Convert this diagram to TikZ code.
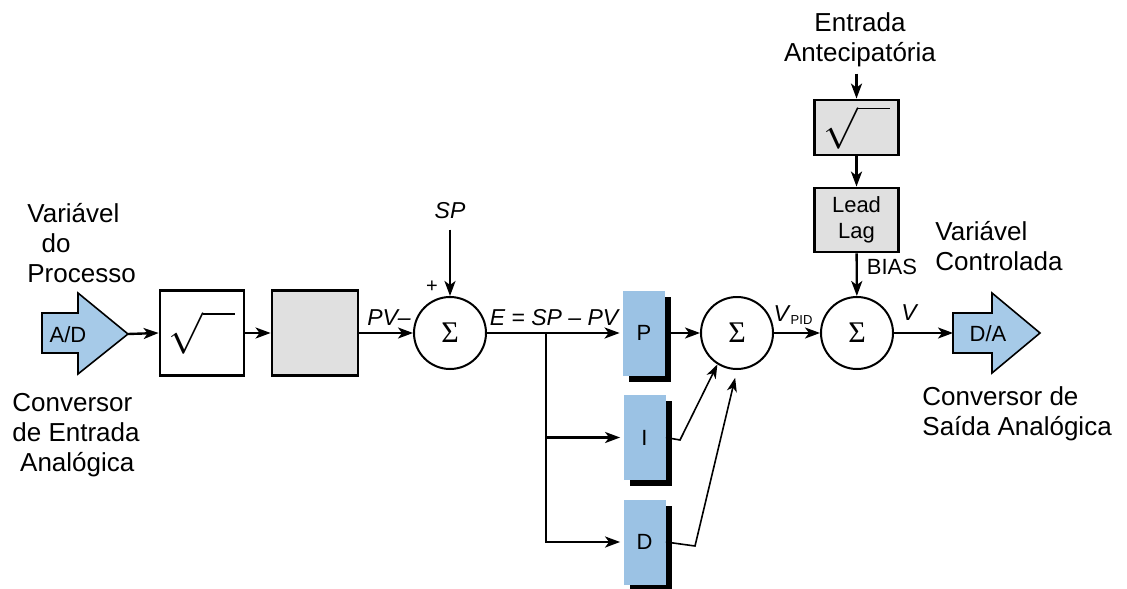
\documentclass[tikz,border=0pt]{standalone}
\usepackage{fontspec}
\setmainfont{Liberation Sans}
\newfontfamily\sigmafont{Liberation Serif}
\usetikzlibrary{arrows.meta, positioning, shadows}
\definecolor{convblue}{RGB}{166,202,232}
\definecolor{pidblue}{RGB}{155,194,228}
\definecolor{boxgray}{RGB}{224,224,224}
\newcommand{\rootsym}{{\fontsize{22}{22}\selectfont$\sqrt{\rule{0pt}{11pt}\hspace{16pt}}$}}
\newcommand{\sumsym}{{\sigmafont\fontsize{15}{15}\selectfont Σ}}

\begin{document}
\begin{tikzpicture}[x=0.5pt, y=-0.5pt,
    block/.style={rectangle, draw=black, line width=1.4pt, minimum width=42pt, minimum height=42.5pt, inner sep=0pt},
    sumnode/.style={circle, draw=black, line width=1pt, minimum size=36pt, inner sep=0pt},
    pidbox/.style={rectangle, fill=pidblue, minimum width=21pt, minimum height=42.5pt, inner sep=0pt, font=\fontsize{11}{13}\selectfont, drop shadow={shadow xshift=3pt, shadow yshift=-3pt, fill=black, opacity=1}},
    conv/.style={draw=black, line width=0.8pt, fill=convblue},
    bigtxt/.style={font=\fontsize{13}{15}\selectfont, inner sep=0pt},
    smalltxt/.style={font=\fontsize{11}{13}\selectfont, inner sep=0pt},
    sigtxt/.style={font=\fontsize{11.5}{13}\selectfont\itshape, inner sep=0pt},
    arrow/.style={-{Stealth[length=7.5pt, width=5.5pt, inset=2pt]}, line width=1.2pt},
    thinarrow/.style={-{Stealth[length=7pt, width=5pt, inset=2pt]}, line width=0.8pt}
]
\useasboundingbox (0,0) rectangle (1127,588);

% A/D converter
\draw[conv] (42,313) -- (78,313) -- (78,293) -- (128,334) -- (78,374) -- (78,353) -- (42,353) -- cycle;
\node[smalltxt] (ad) at (68,335) {A/D};
\coordinate (adtip) at (128,334);
\node[bigtxt, anchor=west, align=left] (pvtxt) at (27,243) {Variável\\\hspace{0.55em}do\\Processo};
\node[bigtxt, anchor=west, align=left] (adtxt) at (12,435) {Conversor\\de Entrada\\\hspace{0.3em}Analógica};

% Blocks
\node[block, fill=white] (sqrt1) at (202,333) {\rootsym};
\node[block, fill=boxgray, minimum width=43pt] (gray) at (315,333) {};

% Sums
\node[sumnode] (sum1) at (450,333) {\sumsym};
\node[sumnode] (sum2) at (737,333) {\sumsym};
\node[sumnode] (sum3) at (857,333) {\sumsym};

% PID
\node[pidbox] (P) at (644,333) {P};
\node[pidbox] (I) at (644.5,437.5) {I};
\node[pidbox] (D) at (644.5,542) {D};

% Feedforward
\node[bigtxt, align=center] (ff) at (860,40) {Entrada\\Antecipatória};
\node[block, fill=boxgray, minimum height=27.5pt] (sqrt2) at (856.5,127.5) {\rootsym};
\node[block, fill=boxgray, minimum height=32pt, smalltxt, align=center] (leadlag) at (856.5,220) {Lead\\Lag};

% D/A converter
\draw[conv] (953,313) -- (992,313) -- (992,293) -- (1040,333) -- (992,373) -- (992,353) -- (953,353) -- cycle;
\node[smalltxt] (da) at (988,334) {D/A};
\coordinate (dain) at (953,333);
\node[bigtxt, anchor=west, align=left] (cvtxt) at (935,246) {Variável\\Controlada};
\node[bigtxt, anchor=west, align=left] (datxt) at (922,414) {Conversor de\\Saída Analógica};

% Signal labels
\node[sigtxt] (pv) at (389,318) {PV–};
\node[font=\fontsize{10}{10}\selectfont, inner sep=0pt] (plus) at (432,287) {+};
\node[sigtxt] (sp) at (450,211) {SP};
\node[sigtxt] (err) at (554,318) {E = SP – PV};
\node[sigtxt] (vpid) at (793,315) {V\textup{\fontsize{6.5}{7}\selectfont\raisebox{-0.35ex}{PID}}};
\node[sigtxt] (vout) at (909,313) {V};
\node[smalltxt] (bias) at (892,267) {BIAS};

% Connectors
\draw[arrow] (adtip) -- (sqrt1.west);
\draw[arrow] (sqrt1) -- (gray);
\draw[arrow] (gray) -- (sum1);
\draw[arrow, shorten <=5pt] (sp.south) -- (sum1.north);
\draw[arrow, shorten >=1.5pt] (sum1) -- (P.west);
\coordinate (br) at (546,333);
\draw[arrow, shorten >=1.5pt] (br) |- (I.west);
\draw[arrow, shorten >=1.5pt] (br) |- (D.west);
\draw[arrow] (P) -- (sum2);
\coordinate (ik) at (680,440);
\coordinate (dk) at (695,546);
\draw[thinarrow] (I.east) -- (ik) -- (sum2.238);
\draw[thinarrow, shorten >=4pt] (D.east) -- (dk) -- (sum2.south);
\draw[arrow] (sum2) -- (sum3);
\draw[arrow] (sum3) -- (dain);
\draw[arrow, shorten <=3pt] (sqrt2.north |- ff.south) -- (sqrt2.north);
\draw[arrow] (sqrt2) -- (leadlag);
\draw[arrow] (leadlag) -- (sum3);

\end{tikzpicture}
\end{document}
